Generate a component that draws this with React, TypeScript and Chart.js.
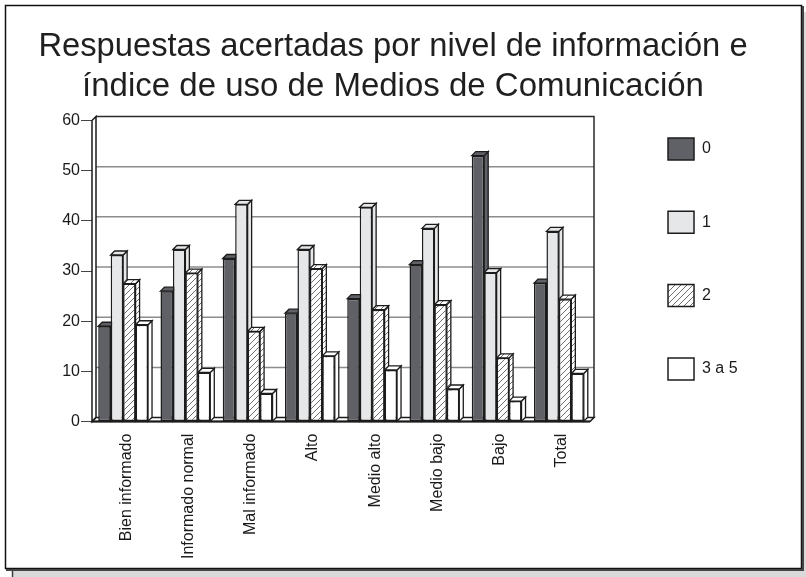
import React, { useEffect, useRef } from 'react';
import { Chart, registerables } from 'chart.js';

Chart.register(...registerables);

const titleLines = [
  'Respuestas acertadas por nivel de información e',
  'índice de uso de Medios de Comunicación',
];
const categories = [
  'Bien informado',
  'Informado normal',
  'Mal informado',
  'Alto',
  'Medio alto',
  'Medio bajo',
  'Bajo',
  'Total',
];
const seriesLabels = ['0', '1', '2', '3 a 5'];
const values0 = [19, 26, 32.5, 21.6, 24.5, 31.3, 53, 27.6];
const values1 = [33.2, 34.3, 43.3, 34.3, 42.7, 38.5, 29.7, 37.9];
const values2 = [27.5, 29.6, 18, 30.5, 22.3, 23.3, 12.7, 24.4];
const values3 = [19.3, 9.8, 5.6, 13.1, 10.3, 6.5, 4.1, 9.6];
const yMin = 0;
const yMax = 60;
const yStep = 10;

const FONT = "'Liberation Sans', Arial, Helvetica, sans-serif";
const DEPTH = 4;
const EDGE = '#1c1c1c';

function makeHatch(ctx: CanvasRenderingContext2D): CanvasPattern {
  const c = document.createElement('canvas');
  c.width = 6;
  c.height = 6;
  const g = c.getContext('2d') as CanvasRenderingContext2D;
  g.fillStyle = '#ffffff';
  g.fillRect(0, 0, 6, 6);
  g.strokeStyle = '#6e6e6e';
  g.lineWidth = 1;
  g.beginPath();
  g.moveTo(0, 6);
  g.lineTo(6, 0);
  g.moveTo(-1, 1);
  g.lineTo(1, -1);
  g.moveTo(5, 7);
  g.lineTo(7, 5);
  g.stroke();
  return ctx.createPattern(c, 'repeat') as CanvasPattern;
}

const framePlugin = {
  id: 'frame',
  beforeDraw(chart: any) {
    const ctx = chart.ctx as CanvasRenderingContext2D;
    const W = chart.width;
    const H = chart.height;
    ctx.save();
    ctx.fillStyle = '#ffffff';
    ctx.fillRect(0, 0, W, H);
    ctx.fillStyle = '#d9d9d9';
    ctx.fillRect(12, 12, W - 12, H - 12);
    ctx.strokeStyle = '#3c3c3c';
    ctx.lineWidth = 1.5;
    ctx.beginPath();
    ctx.moveTo(12.5, H - 8);
    ctx.lineTo(12.5, H);
    ctx.stroke();
    ctx.fillStyle = '#ffffff';
    ctx.fillRect(5, 5, W - 9, H - 13);
    ctx.strokeStyle = '#111111';
    ctx.lineWidth = 1.5;
    ctx.strokeRect(5.5, 5.5, W - 10, H - 14);
    ctx.strokeStyle = '#444444';
    ctx.lineWidth = 2;
    ctx.beginPath();
    ctx.moveTo(6, H - 7);
    ctx.lineTo(W - 3, H - 7);
    ctx.lineTo(W - 3, 6);
    ctx.stroke();
    ctx.restore();
  },
};

function poly(ctx: CanvasRenderingContext2D, pts: number[][], fill: any, stroke: string, lw: number) {
  ctx.beginPath();
  ctx.moveTo(pts[0][0], pts[0][1]);
  for (let i = 1; i < pts.length; i++) ctx.lineTo(pts[i][0], pts[i][1]);
  ctx.closePath();
  ctx.fillStyle = fill;
  ctx.fill();
  ctx.strokeStyle = stroke;
  ctx.lineWidth = lw;
  ctx.stroke();
}

const threeDPlugin = {
  id: 'threeD',
  beforeDatasetsDraw(chart: any) {
    const ctx = chart.ctx as CanvasRenderingContext2D;
    const a = chart.chartArea;
    const ys = chart.scales.y;
    const d = DEPTH;
    ctx.save();
    // back wall
    ctx.fillStyle = '#ffffff';
    ctx.fillRect(a.left + d, a.top - d, a.right - a.left, a.bottom - a.top);
    // gridlines on back wall
    ctx.strokeStyle = '#8c8c8c';
    ctx.lineWidth = 1.5;
    for (let v = yMin + yStep; v < yMax; v += yStep) {
      const py = ys.getPixelForValue(v) - d;
      ctx.beginPath();
      ctx.moveTo(a.left + d, py);
      ctx.lineTo(a.right + d, py);
      ctx.stroke();
    }
    // back wall top/right edges
    ctx.strokeStyle = '#2a2a2a';
    ctx.lineWidth = 1.5;
    ctx.beginPath();
    ctx.moveTo(a.left + d, a.top - d);
    ctx.lineTo(a.right + d, a.top - d);
    ctx.lineTo(a.right + d, a.bottom - d);
    ctx.stroke();
    // left wall
    poly(ctx, [[a.left, a.top], [a.left + d, a.top - d], [a.left + d, a.bottom - d], [a.left, a.bottom]], '#ffffff', EDGE, 1.5);
    // floor
    poly(ctx, [[a.left, a.bottom], [a.left + d, a.bottom - d], [a.right + d, a.bottom - d], [a.right, a.bottom]], '#ffffff', EDGE, 1.5);
    ctx.strokeStyle = EDGE;
    ctx.lineWidth = 2;
    ctx.beginPath();
    ctx.moveTo(a.left, a.bottom);
    ctx.lineTo(a.right, a.bottom);
    ctx.stroke();

    // bar side & top faces
    const n = chart.data.labels.length;
    const metas = chart.data.datasets.map((_: any, i: number) => chart.getDatasetMeta(i));
    for (let j = 0; j < n; j++) {
      for (let i = 0; i < metas.length; i++) {
        const el = metas[i].data[j];
        if (!el) continue;
        const p = el.getProps(['x', 'y', 'base', 'width'], true);
        const l = p.x - p.width / 2;
        const r = p.x + p.width / 2;
        const fill = chart.data.datasets[i].backgroundColor;
        poly(ctx, [[r, p.y], [r + d, p.y - d], [r + d, p.base - d], [r, p.base]], fill, EDGE, 1.3);
        poly(ctx, [[l, p.y], [l + d, p.y - d], [r + d, p.y - d], [r, p.y]], fill, EDGE, 1.3);
      }
    }
    ctx.restore();
  },
};

export default function App() {
  const ref = useRef<HTMLCanvasElement | null>(null);

  useEffect(() => {
    const canvas = ref.current;
    if (!canvas) return;
    const ctx = canvas.getContext('2d') as CanvasRenderingContext2D;
    const hatch = makeHatch(ctx);
    const seriesValues = [values0, values1, values2, values3];
    const fills: any[] = ['#606166', '#e6e7e9', hatch, '#ffffff'];

    const chart = new Chart(ctx, {
      type: 'bar',
      data: {
        labels: categories,
        datasets: seriesLabels.map((label, i) => ({
          label,
          data: seriesValues[i],
          backgroundColor: fills[i],
          borderColor: EDGE,
          borderWidth: 1.5,
          borderSkipped: false,
          categoryPercentage: 0.8,
          barPercentage: 1.0,
        })),
      },
      options: {
        responsive: false,
        devicePixelRatio: 1,
        animation: false,
        events: [],
        layout: { padding: { left: 38.4, right: 58.4, top: 0, bottom: 6 } },
        plugins: {
          tooltip: { enabled: false },
          title: {
            display: true,
            text: titleLines,
            color: '#1f1f1f',
            font: { family: FONT, size: 33, weight: 'normal', lineHeight: 1.2 },
            padding: { top: 27.2, bottom: 14.1 },
          },
          legend: {
            display: true,
            position: 'right',
            align: 'start',
            maxWidth: 300,
            title: {
              display: true,
              text: ' ',
              font: { family: FONT, size: 16, lineHeight: 1.2 },
              padding: { top: 67.5, bottom: 0 },
            },
            labels: {
              boxWidth: 26,
              boxHeight: 22,
              padding: 51.3,
              color: '#1a1a1a',
              font: { family: FONT, size: 16 },
            },
          },
        },
        scales: {
          x: {
            offset: true,
            grid: { display: false, drawTicks: false },
            border: { display: false },
            ticks: {
              autoSkip: false,
              minRotation: 90,
              maxRotation: 90,
              padding: 12,
              labelOffset: 3,
              color: '#1a1a1a',
              font: { family: FONT, size: 16 },
            },
          },
          y: {
            min: yMin,
            max: yMax,
            grid: { display: true, drawOnChartArea: false, drawTicks: true, tickLength: 11, color: '#444444', lineWidth: 1 },
            border: { display: false },
            ticks: {
              stepSize: yStep,
              padding: 1,
              color: '#1a1a1a',
              font: { family: FONT, size: 16 },
            },
            afterFit: (s: any) => {
              s.width = 53.6;
            },
          },
          y2: {
            type: 'linear',
            position: 'right',
            display: true,
            grid: { display: false, drawTicks: false },
            border: { display: false },
            ticks: { display: false },
            afterFit: (s: any) => {
              s.width = 26.7;
            },
          },
        },
      } as any,
      plugins: [framePlugin, threeDPlugin],
    });

    return () => chart.destroy();
  }, []);

  return (
    <div style={{ position: 'fixed', left: 0, top: 0, width: 806, height: 577 }}>
      <canvas ref={ref} width={806} height={577} style={{ display: 'block', width: 806, height: 577 }} />
    </div>
  );
}
